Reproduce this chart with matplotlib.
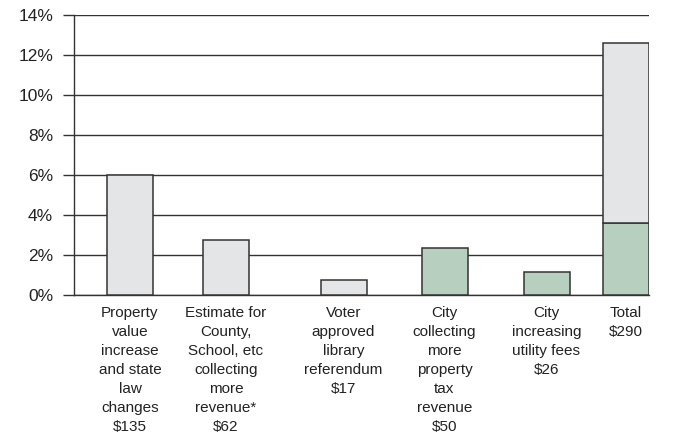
"""Breakdown of tax increase by source, as a share of the total bill."""

import matplotlib
matplotlib.use("Agg")
import matplotlib.pyplot as plt
from matplotlib.ticker import FuncFormatter

plt.rcParams['font.family'] = ['Liberation Sans', 'DejaVu Sans']

# Data
categories = [
    "Property\nvalue\nincrease\nand state\nlaw\nchanges\n$135",
    "Estimate for\nCounty,\nSchool, etc\ncollecting\nmore\nrevenue*\n$62",
    "Voter\napproved\nlibrary\nreferendum\n$17",
    "City\ncollecting\nmore\nproperty\ntax\nrevenue\n$50",
    "City\nincreasing\nutility fees\n$26",
    "Total\n$290",
]
gray_values = [6.0, 2.75, 0.75, 0.0, 0.0, 9.0]    # non-city share (%)
green_values = [0.0, 0.0, 0.0, 2.35, 1.15, 3.6]   # city share (%)
y_ticks = [0, 2, 4, 6, 8, 10, 12, 14]

# Layout: bar centres in pixel-like units (bars are not evenly spaced)
xpos = [130, 226, 343.5, 444.5, 546.5, 625.5]
bar_w = 46

GRAY = "#e4e5e7"
GREEN = "#b7cfbf"
EDGE = "#333333"
LINE = "#333333"

fig = plt.figure(figsize=(6.8, 4.47), dpi=100)
ax = fig.add_axes([74 / 680, 1 - 295 / 447, (649 - 74) / 680, (295 - 14.7) / 447])

# green part first (bottom of stack), then gray on top
for x, g, v in zip(xpos, green_values, gray_values):
    if g > 0:
        ax.bar(x, g, width=bar_w, color=GREEN, edgecolor=EDGE, linewidth=1.1, zorder=3)
    if v > 0:
        ax.bar(x, v, bottom=g, width=bar_w, color=GRAY, edgecolor=EDGE, linewidth=1.1, zorder=3)

ax.set_xlim(74, 649)
ax.set_ylim(0, 14)
ax.set_yticks(y_ticks)
ax.yaxis.set_major_formatter(FuncFormatter(lambda v, _: f"{v:.0f}%"))
ax.yaxis.grid(True, color=LINE, linewidth=1.0, zorder=0)
ax.set_axisbelow(True)

ax.set_xticks(xpos)
ax.set_xticklabels(categories, fontsize=11, color="#222222", linespacing=1.45)
ax.tick_params(axis='x', length=0, pad=8)
ax.tick_params(axis='y', length=8, width=1.0, color=LINE, labelsize=12.5,
               labelcolor="#222222", pad=7)

for side in ("top", "right"):
    ax.spines[side].set_visible(False)
for side in ("left", "bottom"):
    ax.spines[side].set_color(LINE)
    ax.spines[side].set_linewidth(1.0)

fig.savefig("out.png", dpi=100)
